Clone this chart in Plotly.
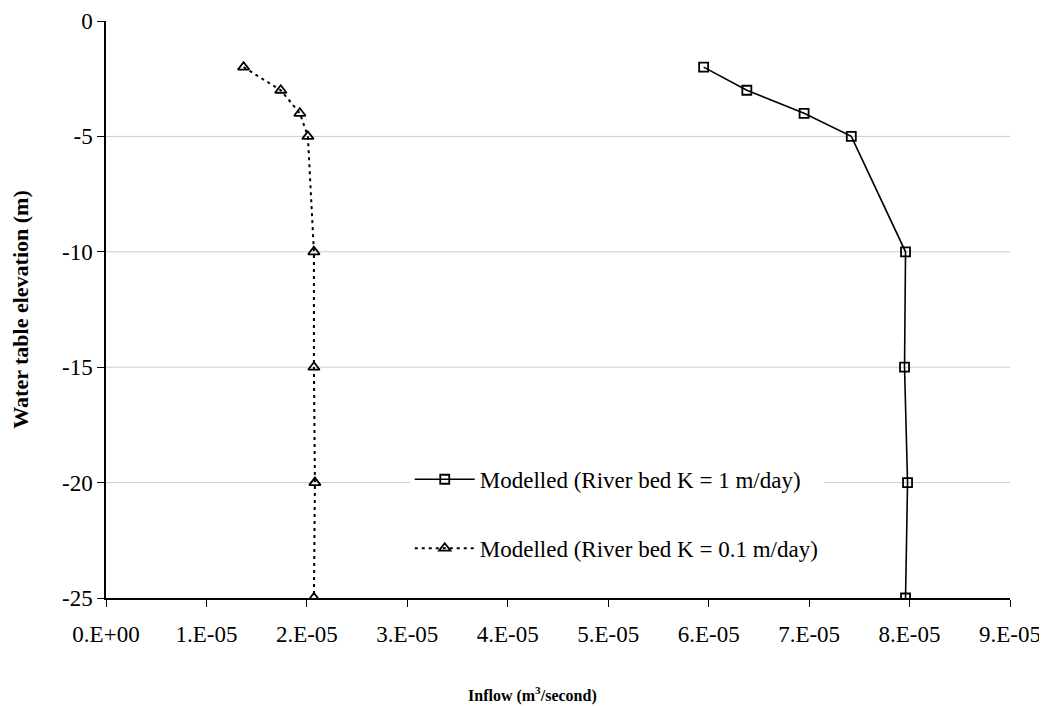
import plotly.graph_objects as go

elev = [-2, -3, -4, -5, -10, -15, -20, -25]
inflow_k1 = [5.95e-05, 6.38e-05, 6.95e-05, 7.42e-05, 7.96e-05, 7.95e-05, 7.98e-05, 7.96e-05]
inflow_k01 = [1.37e-05, 1.74e-05, 1.93e-05, 2.01e-05, 2.07e-05, 2.07e-05, 2.08e-05, 2.07e-05]

x_tickvals = [i * 1e-05 for i in range(10)]
x_ticktext = ["0.E+00", "1.E-05", "2.E-05", "3.E-05", "4.E-05", "5.E-05", "6.E-05", "7.E-05", "8.E-05", "9.E-05"]
y_tickvals = [0, -5, -10, -15, -20, -25]
y_ticktext = ["0", "-5", "-10", "-15", "-20", "-25"]
grid_vals = [-5, -10, -15, -20]

FONT = "Liberation Serif"

fig = go.Figure()
fig.add_trace(go.Scatter(
    x=inflow_k1, y=elev, mode="lines+markers",
    name="Modelled (River bed K = 1 m/day)",
    legendgroup="a",
    line=dict(color="black", width=1.6),
    marker=dict(symbol="square-open", size=9, color="black", line=dict(width=1.8)),
))
fig.add_trace(go.Scatter(
    x=inflow_k01, y=elev, mode="lines+markers",
    name="Modelled (River bed K = 0.1 m/day)",
    legendgroup="b",
    line=dict(color="black", width=2, dash="3px,4px"),
    marker=dict(symbol="triangle-up-open", size=10, color="black", line=dict(width=1.8)),
))

for g in grid_vals:
    fig.add_shape(type="line", xref="paper", yref="y", x0=0, x1=1, y0=g, y1=g,
                  line=dict(color="#cccccc", width=1), layer="below")

fig.add_annotation(text="<b>Inflow (m<sup>3</sup>/second)</b>", xref="paper", yref="paper",
                   x=0.472, y=-0.168, xanchor="center", yanchor="middle", showarrow=False,
                   font=dict(size=16, family=FONT, color="black"))

fig.update_layout(
    width=1039, height=698,
    margin=dict(l=98, r=37, t=13, b=108, autoexpand=False),
    paper_bgcolor="white", plot_bgcolor="white",
    font=dict(family=FONT, color="black", size=20),
    legend=dict(x=0.336, y=0.243, xanchor="left", yanchor="top",
                bgcolor="white", font=dict(size=23, family=FONT),
                tracegroupgap=36, itemwidth=60),
    xaxis=dict(range=[0, 9e-05], tickvals=x_tickvals, ticktext=x_ticktext, automargin=False,
               showgrid=False, zeroline=False, showline=True, linecolor="black", linewidth=1.5,
               ticks="outside", ticklen=7, tickcolor="black", tickwidth=1,
               ticklabelstandoff=8,
               tickfont=dict(size=23, family=FONT)),
    yaxis=dict(range=[-25, 0], tickvals=y_tickvals, ticktext=y_ticktext, automargin=False,
               showgrid=False, zeroline=False, showline=True, linecolor="black", linewidth=1.5,
               ticks="outside", ticklen=7, tickcolor="black", tickwidth=1,
               tickfont=dict(size=23, family=FONT),
               title=dict(text="<b>Water table elevation (m)</b>", font=dict(size=22, family=FONT), standoff=30)),
)

fig.write_html("out.html")
